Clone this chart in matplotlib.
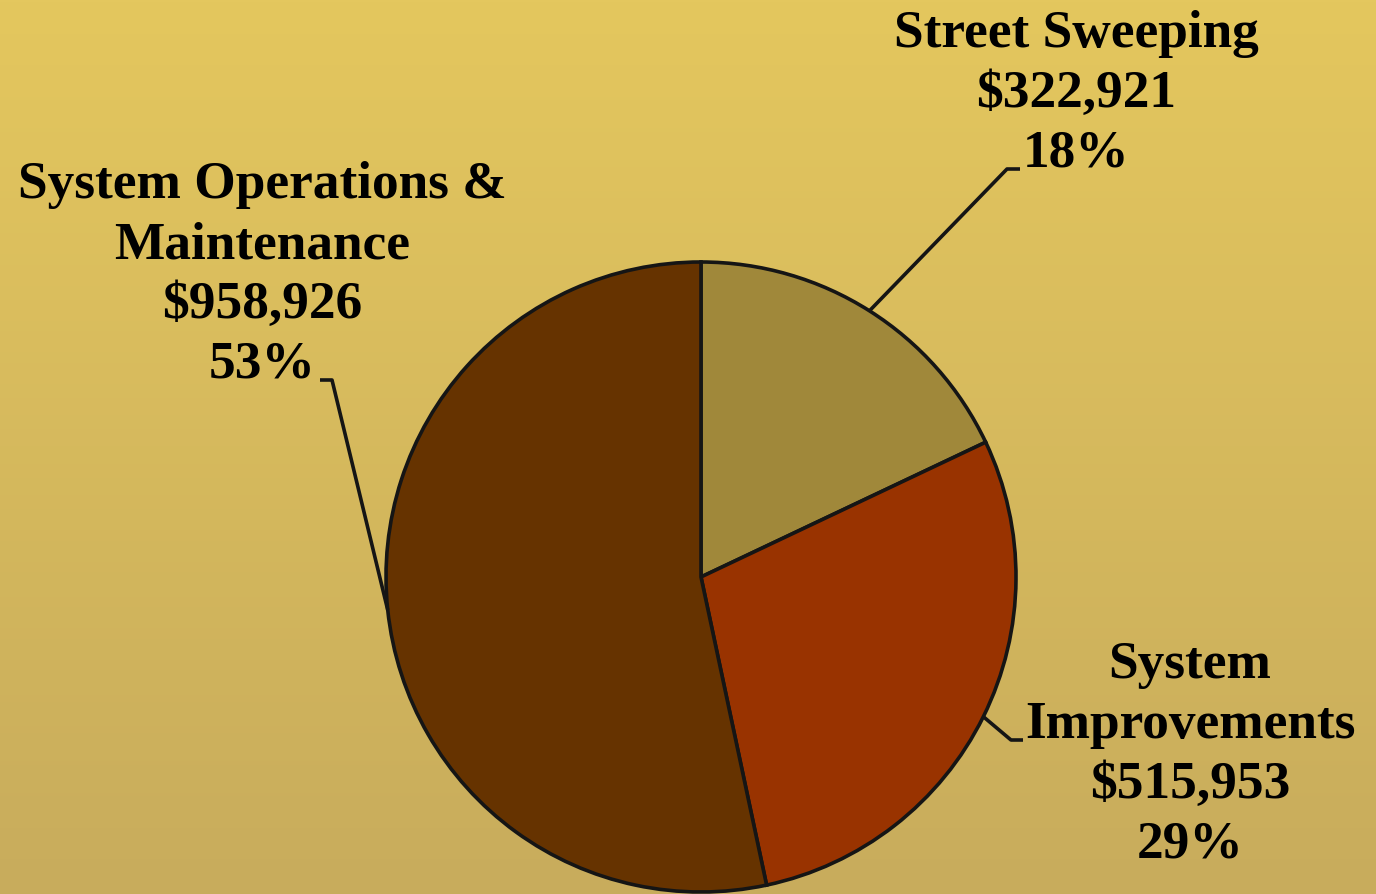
import numpy as np
import matplotlib.pyplot as plt

labels = ["Street Sweeping", "System\nImprovements", "System Operations &\nMaintenance"]
values = [322921, 515953, 958926]
colors = ["#A0883A", "#993300", "#663300"]

W, H, DPI = 1376, 895, 100
cx, cy, R = 701, 578, 315  # pie centre / radius in pixels

fig = plt.figure(figsize=(W / DPI, H / DPI), dpi=DPI)

# background gradient
bg = fig.add_axes([0, 0, 1, 1])
grad = np.linspace(0, 1, 256)[:, None]
top = np.array([228, 199, 94]) / 255
bot = np.array([200, 172, 92]) / 255
img = top[None, None, :] * (1 - grad[..., None]) + bot[None, None, :] * grad[..., None]
img = np.repeat(img, 2, axis=1)
bg.imshow(img, aspect="auto", extent=(0, 1, 0, 1))
bg.axis("off")

ax = fig.add_axes([0, 0, 1, 1])

wedges, _ = ax.pie(values, colors=colors, startangle=90, counterclock=False, radius=1,
                   wedgeprops=dict(edgecolor="#151515", linewidth=2.6))
ax.set_xlim(-cx / R, (W - cx) / R)
ax.set_ylim(-(H - cy) / R, cy / R)
ax.set_aspect("equal")
ax.axis("off")

total = sum(values)
pct = [round(v / total * 100) for v in values]

# elbow / end of leader lines (pixels) and label centres
elbows = [((1007, 170), (1020, 170)), ((1011, 741), (1023, 741)), ((332, 381), (320, 381))]
label_pos = [(1076, 94), (1190, 755), (262, 275)]

def px(x, y):
    return (x - cx) / R, (cy - y) / R

for w, v, p, lab, (e1, e2), (lx, ly) in zip(wedges, values, pct, labels, elbows, label_pos):
    ang = np.deg2rad((w.theta1 + w.theta2) / 2)
    x0, y0 = np.cos(ang), np.sin(ang)
    x1, y1 = px(*e1)
    x2, y2 = px(*e2)
    ax.plot([x0, x1, x2], [y0, y1, y2], color="#151515", lw=2.6, solid_capstyle="butt")
    txt = f"{lab}\n${v:,}\n{p}%"
    tx, ty = px(lx, ly)
    ax.text(tx, ty, txt, ha="center", va="center", fontsize=38.4, fontweight="bold",
            family="Liberation Serif", linespacing=1.32, color="black")

fig.savefig("out.png", dpi=DPI)
